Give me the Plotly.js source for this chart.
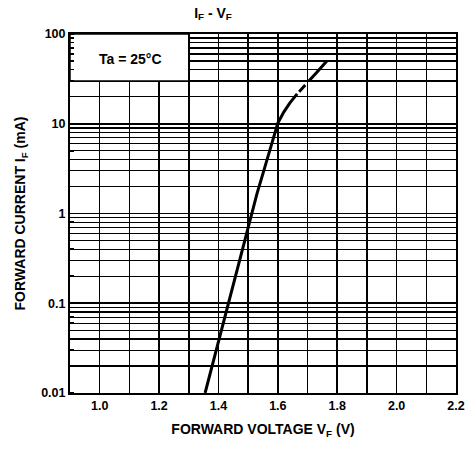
<!DOCTYPE html>
<html>
<head>
<meta charset="utf-8">
<script src="https://cdn.plot.ly/plotly-3.0.1.min.js"></script>
<style>html,body{margin:0;padding:0;background:#fff;}#chart{width:465px;height:451px;}</style>
</head>
<body>
<div id="chart"></div>
<script>
const vfSolid = [1.355, 1.38, 1.40, 1.42, 1.44, 1.46, 1.48, 1.50, 1.51, 1.53, 1.55, 1.57, 1.59, 1.60, 1.62, 1.64, 1.665];
const ifSolid = [0.01, 0.021, 0.038, 0.069, 0.125, 0.226, 0.41, 0.74, 1.0, 1.68, 2.8, 4.8, 8.0, 10.2, 13.5, 17, 21.5];
const vfDash = [1.665, 1.70, 1.73, 1.765];
const ifDash = [21.5, 28.6, 37, 50];
const yTickVals = [0.01, 0.1, 1, 10, 100];
const yTickText = ["0.01", "0.1", "1", "10", "100"];
const xTickVals = [1.0, 1.2, 1.4, 1.6, 1.8, 2.0, 2.2];
const xTickText = ["1.0", "1.2", "1.4", "1.6", "1.8", "2.0", "2.2"];
const noteText = "Ta = 25°C";

const fnt = {family: "Liberation Sans, Arial, sans-serif", color: "#000", weight: "bold"};

const traces = [
  {x: vfSolid, y: ifSolid, mode: "lines", line: {color: "#000", width: 3}, hoverinfo: "skip"},
  {x: vfDash, y: ifDash, mode: "lines", line: {color: "#000", width: 3, dash: "0px,3px,9px,5px,40px,5px"}, hoverinfo: "skip"}
];

const layout = {
  width: 465, height: 451,
  margin: {l: 70, r: 9, t: 34, b: 58},
  paper_bgcolor: "#fff", plot_bgcolor: "#fff",
  showlegend: false,
  font: Object.assign({size: 12.5}, fnt),
  title: {text: "I<sub>F</sub> - V<sub>F</sub>", font: Object.assign({size: 14}, fnt), xref: "container", x: 0.458, xanchor: "center", yref: "container", y: 0.972, yanchor: "middle"},
  xaxis: {
    range: [0.9, 2.2], tickmode: "array", tickvals: xTickVals, ticktext: xTickText,
    showgrid: true, gridcolor: "#000", gridwidth: 1.6,
    minor: {dtick: 0.1, tick0: 0.9, showgrid: true, gridcolor: "#000", gridwidth: 1.6},
    showline: true, linecolor: "#000", linewidth: 2, mirror: true,
    ticks: "", zeroline: false,
    tickfont: Object.assign({size: 12.5}, fnt),
    title: {text: "FORWARD VOLTAGE V<sub>F</sub> (V)", font: Object.assign({size: 14}, fnt), standoff: 12}
  },
  yaxis: {
    type: "log", range: [-2, 2], tickmode: "array", tickvals: yTickVals, ticktext: yTickText,
    showgrid: true, gridcolor: "#000", gridwidth: 1.8,
    minor: {dtick: "D1", showgrid: true, gridcolor: "#000", gridwidth: 1.3, ticks: "inside", ticklen: 4, tickwidth: 1.5, tickcolor: "#000"},
    showline: true, linecolor: "#000", linewidth: 2, mirror: true,
    ticks: "", zeroline: false,
    tickfont: Object.assign({size: 12.5}, fnt),
    title: {text: "FORWARD CURRENT I<sub>F</sub> (mA)", font: Object.assign({size: 14}, fnt), standoff: 12}
  },
  shapes: [
    {type: "rect", xref: "x", yref: "y", x0: 0.9, x1: 1.3, y0: 30, y1: 100, fillcolor: "#fff", line: {color: "#000", width: 1.5}, layer: "between"}
  ],
  annotations: [
    {text: noteText, xref: "x", yref: "y", x: 1.105, y: Math.log10(52), showarrow: false, font: Object.assign({size: 14}, fnt)}
  ]
};

Plotly.newPlot("chart", traces, layout, {staticPlot: true, displayModeBar: false});
</script>
</body>
</html>
